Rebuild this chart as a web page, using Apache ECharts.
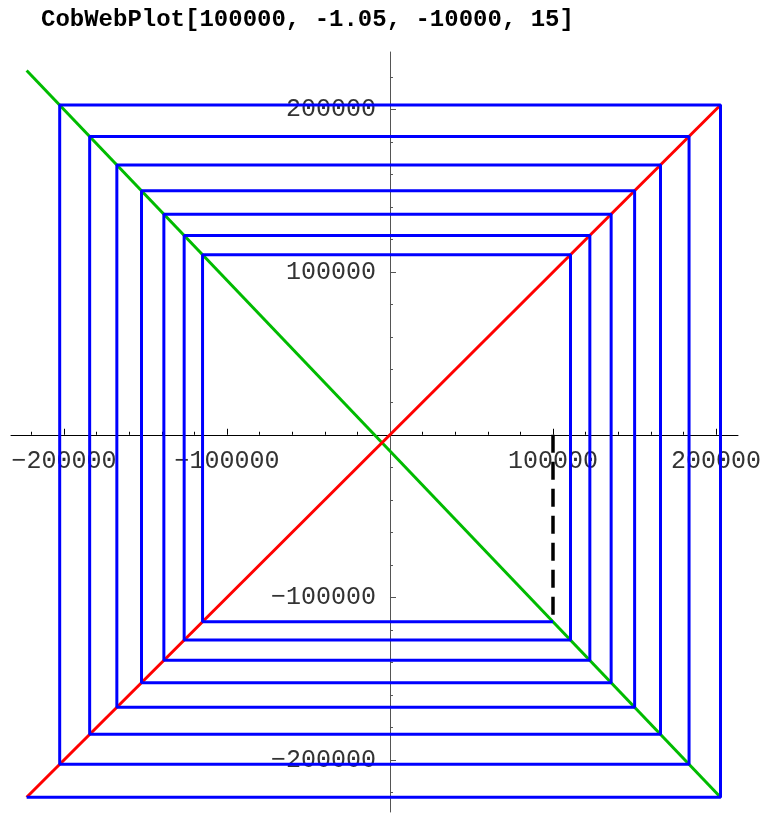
<!DOCTYPE html>
<html>
<head>
<meta charset="utf-8">
<title>CobWebPlot</title>
<script src="https://cdn.jsdelivr.net/npm/echarts@6/dist/echarts.min.js"></script>
<style>
  html, body { margin: 0; padding: 0; background: #fff; }
  #chart { width: 764px; height: 813px; }
</style>
</head>
<body>
<div id="chart"></div>
<script>
// Orbit of x -> -1.05 x - 10000 starting at 100000 (15 steps)
const orbit = [
  100000, -115000, 110750, -126287.5, 122601.9, -138732.0, 135668.6,
  -152452.0, 150074.6, -167578.3, 165957.2, -184255.1, 183467.9,
  -202641.3, 202773.3, -222912.0
];

// End points of the map line and of the diagonal y = x
const mapLine = [[-222912.0, 224057.6], [202773.3, -222912.0]];
const diagLine = [[-222912.0, -222912.0], [202773.3, 202773.3]];

// Axis ticks
const majorTicks = [-200000, -100000, 100000, 200000];
const minorTicks = [
  -220000, -180000, -160000, -140000, -120000, -80000, -60000, -40000, -20000,
  20000, 40000, 60000, 80000, 120000, 140000, 160000, 180000, 220000
];

const xRange = [-232515, 213497];
const yRange = [-232000, 235400];

// Dashed start segment and the staircase path between the two lines
const startSegment = [[orbit[0], 0], [orbit[0], orbit[1]]];
const webPath = [[orbit[0], orbit[1]]];
for (let k = 1; k < orbit.length; k++) {
  webPath.push([orbit[k], orbit[k]]);
  if (k + 1 < orbit.length) webPath.push([orbit[k], orbit[k + 1]]);
}

const mono = 'Liberation Mono';
const fmt = v => (v < 0 ? '\u2212' + String(-v) : String(v));

const GRID = { left: 11, right: 26, top: 52, bottom: 1 };

// Axes crossing at the origin, with the short minor ticks
function originAxis(range, color) {
  return {
    type: 'value', min: range[0], max: range[1],
    axisLine: { show: true, onZero: true, onZeroAxisIndex: 0, lineStyle: { color: color, width: 1 } },
    axisTick: { show: true, inside: true, length: 3, customValues: minorTicks, lineStyle: { color: color, width: 1 } },
    axisLabel: { show: false },
    splitLine: { show: false }
  };
}
// Companion axes with the major ticks and their labels
function labelAxis(range, color, pos) {
  return {
    type: 'value', position: pos, min: range[0], max: range[1], offset: 0,
    axisLine: { show: false, onZero: false },
    axisTick: { show: true, inside: true, length: 6, customValues: majorTicks, lineStyle: { color: color, width: 1 } },
    axisLabel: { show: true, customValues: majorTicks, formatter: fmt, margin: 14,
                 fontFamily: mono, fontSize: 25, color: '#333' },
    splitLine: { show: false }
  };
}

const chart = echarts.init(document.getElementById('chart'));
chart.setOption({
  backgroundColor: '#fff',
  animation: false,
  title: {
    text: 'CobWebPlot[100000, -1.05, -10000, 15]',
    left: 36, top: 3,
    textStyle: { fontFamily: mono, fontWeight: 'bold', fontSize: 24, color: '#000' }
  },
  grid: Object.assign({ containLabel: false, outerBoundsMode: 'none' }, GRID),
  xAxis: [originAxis(xRange, '#000'), labelAxis(xRange, '#000', 'bottom')],
  yAxis: [originAxis(yRange, '#555'), labelAxis(yRange, '#555', 'left')],
  series: [
    { name: 'map', type: 'line', data: mapLine, symbol: 'none',
      lineStyle: { color: '#00bb00', width: 3 }, z: 3 },
    { name: 'diagonal', type: 'line', data: diagLine, symbol: 'none',
      lineStyle: { color: '#ff0000', width: 3 }, z: 3 },
    { name: 'web', type: 'line', data: webPath, symbol: 'none',
      lineStyle: { color: '#0000ff', width: 3 }, z: 4 },
    { name: 'start', type: 'line', data: startSegment, symbol: 'none',
      lineStyle: { color: '#000', width: 3.5, type: [18, 9] }, z: 5 }
  ]
});

// Move the labelled axes onto the origin lines
const origin = chart.convertToPixel({ xAxisIndex: 0, yAxisIndex: 0 }, [0, 0]);
const gridBottomPx = chart.getHeight() - GRID.bottom;
chart.setOption({
  xAxis: [{}, { offset: origin[1] - gridBottomPx }],
  yAxis: [{}, { offset: GRID.left - origin[0] }]
});
</script>
</body>
</html>
